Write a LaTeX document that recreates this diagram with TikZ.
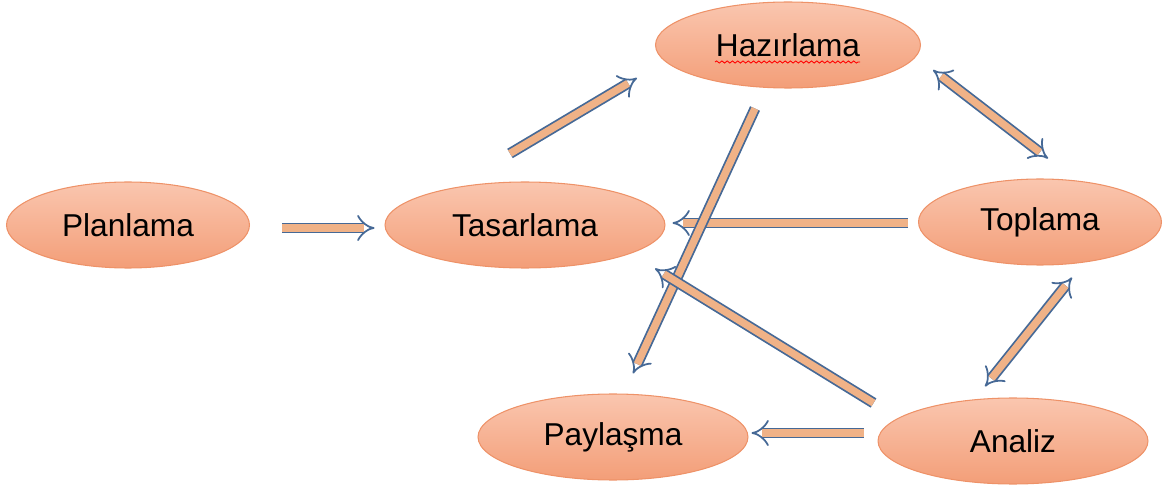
\documentclass[tikz,border=0pt]{standalone}
\usepackage{fontspec}
\setmainfont{Liberation Sans}
\usepackage{tikz}
\usetikzlibrary{shapes.geometric,arrows.meta,decorations.pathmorphing}
\definecolor{seftaliAcik}{RGB}{250,198,175}
\definecolor{seftaliKoyu}{RGB}{243,158,120}
\definecolor{seftaliKenar}{RGB}{238,146,104}
\definecolor{okMavi}{RGB}{70,105,150}
\definecolor{okDolgu}{RGB}{240,178,135}

\begin{document}
\begin{tikzpicture}[x=0.02cm,y=-0.02cm,
  font=\fontsize{18}{22}\selectfont,
  asama/.style={ellipse,minimum width=4.86cm,minimum height=1.72cm,inner sep=0pt,
                draw=seftaliKenar,line width=0.6pt,top color=seftaliAcik,bottom color=seftaliKoyu},
  ok/.style={draw=okMavi,line width=1pt,double=okDolgu,double distance=4.2pt,-{Implies[scale=1.3]}},
  cifok/.style={ok,{Implies[scale=1.3]}-{Implies[scale=1.3]}}]

  \useasboundingbox (0,0) rectangle (1167,486);

  \node[asama] (planlama)  at (128,225) {Planlama};
  \node[asama,minimum width=5.6cm] (tasarlama) at (525,225) {Tasarlama};
  \node[asama,minimum width=5.3cm] (hazirlama) at (788,45) {Hazırlama};
  \node[asama] (toplama)   at (1040,222) {Toplama};
  \node[asama,minimum width=5.4cm] (paylasma) at (613,437) {Paylaşma};
  \node[asama,minimum width=5.4cm] (analiz)   at (1013,441) {Analiz};

  % spell-check underline
  \draw[red,line width=0.5pt,decorate,decoration={snake,amplitude=0.6pt,segment length=3pt}]
    ([shift={(-73,17)}]hazirlama.center) -- ([shift={(72,17)}]hazirlama.center);

  \draw[ok] ([shift={(32,3)}]planlama.east) -- ([shift={(-10,3)}]tasarlama.west);
  \draw[ok] ([shift={(-15,-28)}]tasarlama.north) -- ([shift={(-18,33)}]hazirlama.west);
  \draw[cifok] ([shift={(12,25)}]hazirlama.east) -- ([shift={(8,-20)}]toplama.north);
  \draw[ok] ([shift={(-10,1)}]toplama.west) -- ([shift={(7,-2)}]tasarlama.east);
  \draw[ok] ([shift={(-33,20)}]hazirlama.south) -- ([shift={(20,-20)}]paylasma.north);
  \draw[ok] ([shift={(-4,-38)}]analiz.west) -- ([shift={(130,0)}]tasarlama.south);
  \draw[cifok] ([shift={(-28,-11)}]analiz.north) -- ([shift={(32,12)}]toplama.south);
  \draw[ok] ([shift={(-14,-8)}]analiz.west) -- ([shift={(3,-4)}]paylasma.east);
\end{tikzpicture}
\end{document}
